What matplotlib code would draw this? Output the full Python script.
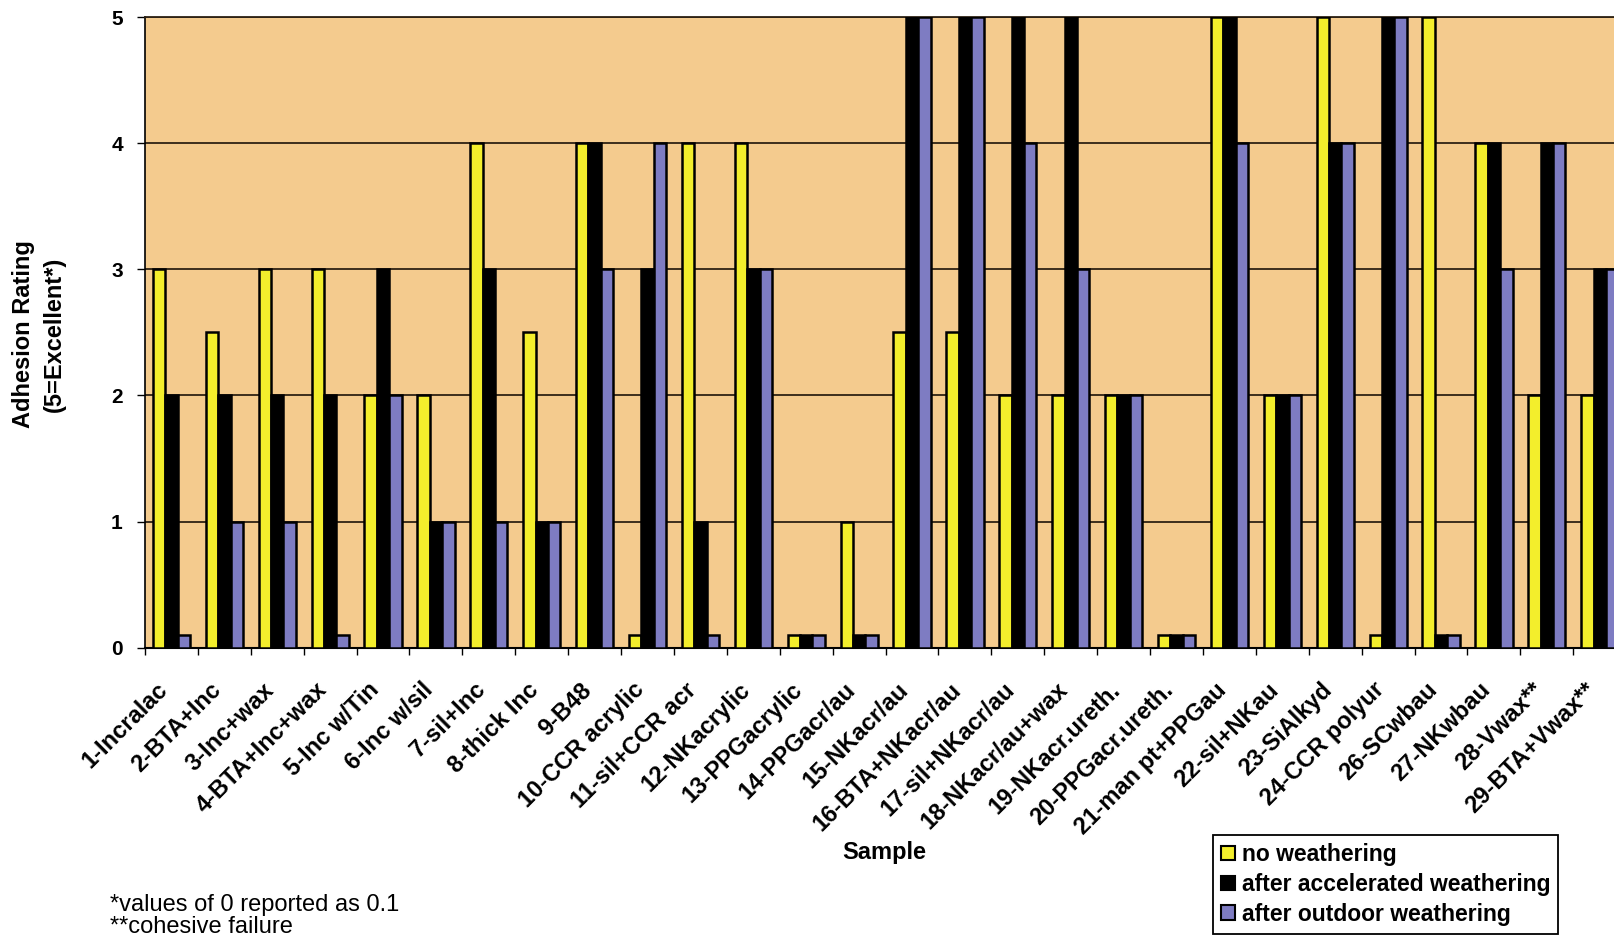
import matplotlib
matplotlib.use("Agg")
import matplotlib.pyplot as plt
import matplotlib.transforms as mtransforms
from matplotlib.patches import Patch
import numpy as np

plt.rcParams['font.family'] = ['Liberation Sans', 'DejaVu Sans']

samples = [
    "1-Incralac", "2-BTA+Inc", "3-Inc+wax", "4-BTA+Inc+wax", "5-Inc w/Tin",
    "6-Inc w/sil", "7-sil+Inc", "8-thick Inc", "9-B48", "10-CCR acrylic",
    "11-sil+CCR acr", "12-NKacrylic", "13-PPGacrylic", "14-PPGacr/au",
    "15-NKacr/au", "16-BTA+NKacr/au", "17-sil+NKacr/au", "18-NKacr/au+wax",
    "19-NKacr.ureth.", "20-PPGacr.ureth.", "21-man pt+PPGau", "22-sil+NKau",
    "23-SiAlkyd", "24-CCR polyur", "26-SCwbau", "27-NKwbau", "28-Vwax**",
    "29-BTA+Vwax**",
]
no_weathering = [3, 2.5, 3, 3, 2, 2, 4, 2.5, 4, 0.1, 4, 4, 0.1, 1,
                 2.5, 2.5, 2, 2, 2, 0.1, 5, 2, 5, 0.1, 5, 4, 2, 2]
accelerated = [2, 2, 2, 2, 3, 1, 3, 1, 4, 3, 1, 3, 0.1, 0.1,
               5, 5, 5, 5, 2, 0.1, 5, 2, 4, 5, 0.1, 4, 4, 3]
outdoor = [0.1, 1, 1, 0.1, 2, 1, 1, 1, 3, 4, 0.1, 3, 0.1, 0.1,
           5, 5, 4, 3, 2, 0.1, 4, 2, 4, 5, 0.1, 3, 4, 3]
series_names = ["no weathering", "after accelerated weathering",
                "after outdoor weathering"]
y_ticks = [0, 1, 2, 3, 4, 5]

colors = ["#F3EE2C", "#000000", "#7E7CC2"]
plot_bg = "#F4CB8E"
grid_col = "#2E2214"

W, H = 1615, 939
fig = plt.figure(figsize=(W / 100, H / 100), dpi=100)
fig.patch.set_facecolor("white")

cat_w = 52.9
x0_px, y0_px, ytop_px = 145, 647.5, 17.5
ax = fig.add_axes([x0_px / W, (H - y0_px) / H,
                   len(samples) * cat_w / W, (y0_px - ytop_px) / H])
ax.set_facecolor(plot_bg)

n = len(samples)
centers = np.arange(n) + 0.5
bw = 0.235
for k, vals in enumerate([no_weathering, accelerated, outdoor]):
    ax.bar(centers + (k - 1) * bw, vals, width=bw, color=colors[k],
           edgecolor="black", linewidth=1.8, zorder=3)

ax.set_xlim(0, n)
ax.set_ylim(0, 5)
ax.set_yticks(y_ticks)
ax.set_yticklabels([str(t) for t in y_ticks], fontsize=15, fontweight="bold")
ax.yaxis.grid(True, color=grid_col, linewidth=1.3, zorder=1)
ax.set_axisbelow(True)

ax.set_xticks(centers)
ax.set_xticklabels(samples, fontsize=17, fontweight="bold")
ax.set_xticks(np.arange(n + 1), minor=True)
ax.tick_params(axis="x", which="major", length=0, pad=28)
ax.tick_params(axis="x", which="minor", length=5, width=1, direction="out")
ax.tick_params(axis="y", length=6, width=1, direction="out", pad=10)
shift = mtransforms.ScaledTranslation(-7 / 100, 0, fig.dpi_scale_trans)
for lbl in ax.get_xticklabels():
    lbl.set_rotation(45)
    lbl.set_ha("right")
    lbl.set_va("center")
    lbl.set_rotation_mode("anchor")
    lbl.set_transform(lbl.get_transform() + shift)

ax.spines["right"].set_visible(False)
ax.spines["top"].set_color(grid_col)
ax.spines["top"].set_linewidth(1.3)
ax.spines["left"].set_linewidth(1.2)
ax.spines["bottom"].set_linewidth(1.5)

# axis titles
fig.text(24 / W, 1 - 334 / H, "Adhesion Rating", rotation=90, ha="center",
         va="center", fontsize=17, fontweight="bold")
fig.text(54 / W, 1 - 334 / H, "(5=Excellent*)", rotation=90, ha="center",
         va="center", fontsize=17, fontweight="bold")
fig.text(884 / W, 1 - 853 / H, "Sample", ha="center", va="center",
         fontsize=17, fontweight="bold")

# footnotes
fig.text(110 / W, 1 - 905 / H, "*values of 0 reported as 0.1", ha="left",
         va="center", fontsize=17)
fig.text(110 / W, 1 - 927 / H, "**cohesive failure", ha="left",
         va="center", fontsize=17)

handles = [Patch(facecolor=c, edgecolor="black", linewidth=1.5) for c in colors]
leg = fig.legend(handles, series_names, loc="upper left",
                 bbox_to_anchor=(1213 / W, 1 - 835 / H),
                 prop={"size": 16.5, "weight": "bold"},
                 handlelength=0.6, handleheight=0.6, handletextpad=0.3,
                 labelspacing=0.3, borderpad=0.35, borderaxespad=0,
                 fancybox=False, framealpha=1, edgecolor="black")
leg.get_frame().set_linewidth(1.3)

fig.savefig("out.png", dpi=100)
